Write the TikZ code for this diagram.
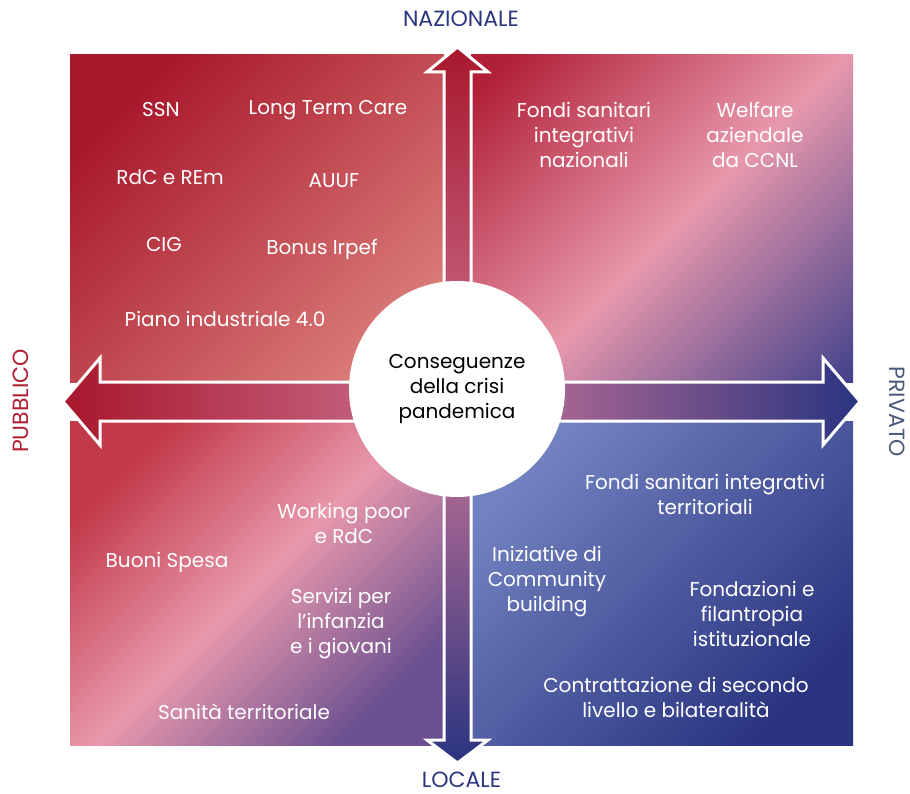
\documentclass[tikz,border=0pt]{standalone}
\usepackage{fontspec}
\setmainfont{Poppins}
\definecolor{redA}{HTML}{A8182C}
\definecolor{salmon}{HTML}{D97A78}
\definecolor{redB}{HTML}{B01F36}
\definecolor{redC}{HTML}{C23A4A}
\definecolor{pinkM}{HTML}{E898AC}
\definecolor{blueD}{HTML}{2A3480}
\definecolor{blueE}{HTML}{343A88}
\definecolor{purpD}{HTML}{6A5090}
\definecolor{blueL}{HTML}{7282C0}
\definecolor{midArrow}{HTML}{CC7596}
\definecolor{pubred}{HTML}{B01C30}
\definecolor{navy}{HTML}{2B3580}
\definecolor{grayblue}{HTML}{4A5A7A}
\pgfdeclarehorizontalshading{trshade}{100bp}{color(0bp)=(redB); color(18bp)=(redB); color(52bp)=(pinkM); color(88bp)=(blueE); color(100bp)=(blueE)}
\tikzset{
  lbl/.style={text=white, align=center, font=\fontsize{20}{25}\selectfont, inner sep=0pt},
  axislbl/.style={font=\fontsize{22}{25}\selectfont, inner sep=0pt},
  arrowshape/.style={draw=white, line width=3pt, line join=miter},
}
\begin{document}
\begin{tikzpicture}[x=1pt, y=-1pt]
\useasboundingbox (0,0) rectangle (910,794);
% quadrants
\shade[top color=redA, bottom color=salmon, shading angle=45] (70,55) rectangle (444,382);
\shade[shading=trshade, shading angle=-45] (471,55) rectangle (853,382);
\shade[top color=redC, bottom color=purpD, middle color=pinkM, shading angle=45] (70,421) rectangle (444,745);
\shade[top color=blueL, bottom color=blueD, shading angle=45] (471,421) rectangle (853,745);
% horizontal arrow
\shadedraw[arrowshape, left color=redA, right color=blueD, middle color=midArrow]
 (63,401.5) -- (100,358) -- (100,382) -- (823,382) -- (823,358) -- (860,401.5)
 -- (823,445) -- (823,421) -- (100,421) -- (100,445) -- cycle;
% vertical arrow
\shadedraw[arrowshape, top color=redA, bottom color=blueD, middle color=midArrow]
 (457.5,47) -- (488,72) -- (471,72) -- (471,740) -- (488,740) -- (457.5,763)
 -- (427,740) -- (444,740) -- (444,72) -- (427,72) -- cycle;
% circle
\node[circle, fill=white, minimum size=216pt, inner sep=0pt] (c) at (457,389) {};
\node[lbl, text=black] (ct) at (457,389) {Conseguenze\\della crisi\\pandemica};
% axis labels
\node[axislbl, text=navy] (naz) at (461,19) {NAZIONALE};
\node[axislbl, text=navy] (loc) at (461.5,779.5) {LOCALE};
\node[axislbl, text=pubred, rotate=90] (pub) at (21,401) {PUBBLICO};
\node[axislbl, text=grayblue, rotate=-90] (pri) at (897,412) {PRIVATO};
% TL
\node[lbl] (ssn) at (161,110) {SSN};
\node[lbl] (ltc) at (328,110) {Long Term Care};
\node[lbl] (rdc) at (170,177) {RdC e REm};
\node[lbl] (auuf) at (334,181) {AUUF};
\node[lbl] (cig) at (164,245) {CIG};
\node[lbl] (bonus) at (322,249) {Bonus Irpef};
\node[lbl] (piano) at (225,319) {Piano industriale 4.0};
% TR
\node[lbl] (fsn) at (584,135) {Fondi sanitari\\integrativi\\nazionali};
\node[lbl] (welf) at (755,135) {Welfare\\aziendale\\da CCNL};
% BL
\node[lbl] (buoni) at (167,562) {Buoni Spesa};
\node[lbl] (wp) at (344,523) {Working poor\\e RdC};
\node[lbl] (serv) at (341,624) {Servizi per\\l’infanzia\\e i giovani};
\node[lbl] (san) at (244,712) {Sanità territoriale};
% BR
\node[lbl] (fst) at (705,494) {Fondi sanitari integrativi\\territoriali};
\node[lbl] (ini) at (547,582) {Iniziative di\\Community\\building};
\node[lbl] (fond) at (752,614) {Fondazioni e\\filantropia\\istituzionale};
\node[lbl] (contr) at (676,697) {Contrattazione di secondo\\livello e bilateralità};
\end{tikzpicture}
\end{document}
